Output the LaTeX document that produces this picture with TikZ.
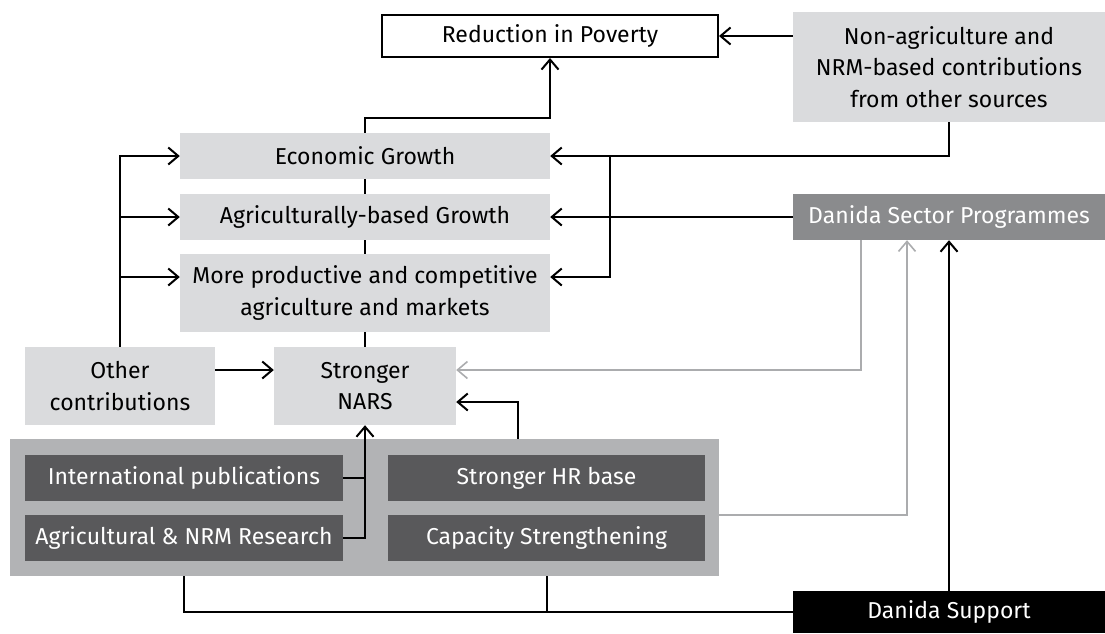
\documentclass[tikz,border=0pt]{standalone}
\usepackage{fontspec}
\setmainfont{Fira Sans}
\usepackage{tikz}
\usetikzlibrary{arrows.meta}
\definecolor{boxlight}{HTML}{DADBDD}
\definecolor{boxmid}{HTML}{8A8B8D}
\definecolor{boxdark}{HTML}{59595B}
\definecolor{panelgray}{HTML}{B2B3B5}
\definecolor{linegray}{HTML}{ABACAE}

\begin{document}
\begin{tikzpicture}[x=1pt,y=-1pt,font=\fontsize{23}{31.5}\selectfont,
    box/.style={inner sep=0pt,align=center},
    lightbox/.style={box,fill=boxlight},
    midbox/.style={box,fill=boxmid,text=white},
    darkbox/.style={box,fill=boxdark,text=white},
    blackbox/.style={box,fill=black,text=white},
    ln/.style={line width=2pt},
    arr/.style={ln,-{Straight Barb[length=10pt,width=17pt]}},
    garr/.style={arr,draw=linegray,line width=1.6pt}]
    \useasboundingbox (0,0) rectangle (1105,633);
    % boxes
    \node (panel) [box,fill=panelgray,minimum width=709pt,minimum height=137pt] at (364.5,507.5) {};
    \node (red) [box,draw,line width=2pt,fill=white,minimum width=336pt,minimum height=42pt] at (550,36) {Reduction in Poverty};
    \node (nonagri) [lightbox,minimum width=312pt,minimum height=110pt] at (949,67) {Non-agriculture and\\NRM-based contributions\\from other sources};
    \node (econ) [lightbox,minimum width=370pt,minimum height=46pt] at (365,156) {Economic Growth};
    \node (agri) [lightbox,minimum width=370pt,minimum height=46pt] at (365,217) {Agriculturally-based Growth};
    \node (more) [lightbox,minimum width=370pt,minimum height=78pt] at (365,293) {More productive and competitive\\agriculture and markets};
    \node (dsp) [midbox,minimum width=312pt,minimum height=46pt] at (949,217) {Danida Sector Programmes};
    \node (other) [lightbox,minimum width=190pt,minimum height=78pt] at (120,386) {Other\\contributions};
    \node (nars) [lightbox,minimum width=182pt,minimum height=78pt] at (365,386) {Stronger\\NARS};
    \node (intl) [darkbox,minimum width=318pt,minimum height=46pt] at (184,478) {International publications};
    \node (res) [darkbox,minimum width=318pt,minimum height=46pt] at (184,538) {Agricultural \& NRM Research};
    \node (hr) [darkbox,minimum width=317pt,minimum height=46pt] at (546.5,478) {Stronger HR base};
    \node (cap) [darkbox,minimum width=317pt,minimum height=46pt] at (546.5,538) {Capacity Strengthening};
    \node (ds) [blackbox,minimum width=312pt,minimum height=42pt] at (949,612) {Danida Support};
    \coordinate (jr) at (610,156);
    \coordinate (mw) at ([yshift=16pt]more.west);
    \coordinate (me) at ([yshift=16pt]more.east);

    % upper part
    \draw [arr] (econ.north) -- ++(0,-15) -| (red.south);
    \draw [arr] (nonagri.west |- red) -- (red);
    \draw [ln] (nars) -- (more); \draw [ln] (more) -- (agri); \draw [ln] (agri) -- (econ);
    \draw [arr] (other.north) |- (econ.west);
    \draw [arr] (other.north |- agri.west) -- (agri.west);
    \draw [arr] (other.north |- mw) -- (mw);
    \draw [arr] (nonagri.south) |- (econ.east);
    \draw [arr] (jr) |- (me);
    \draw [arr] (dsp) -- (agri);

    % lower part
    \draw [arr] ([yshift=16pt]other.east) -- ([yshift=16pt]nars.west);
    \draw [garr] ([xshift=-88pt]dsp.south) |- ([yshift=16pt]nars.east);
    \draw [garr] (panel.east |- cap.north) -| ([xshift=-42pt]dsp.south);
    \draw [arr] (ds) -- (dsp);
    \draw [arr] ([xshift=153.5pt]panel.north) |- ([yshift=-16pt]nars.east);
    \draw [ln] (intl.east) -- (intl.east -| nars.south);
    \draw [arr] (res.east) -| (nars.south);
    \draw [ln] (ds.west) -| (panel.south -| intl.south);
    \draw [ln] (panel.south -| hr.south) -- (hr.south |- ds.west);
\end{tikzpicture}
\end{document}
